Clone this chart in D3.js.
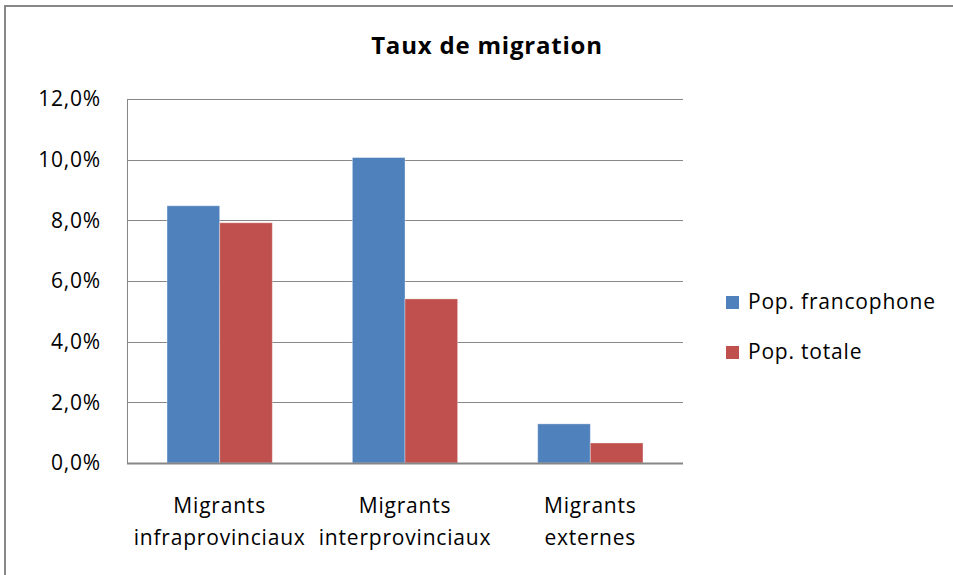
<!DOCTYPE html>
<html>
<head>
<meta charset="utf-8">
<script src="https://cdn.jsdelivr.net/npm/d3@7"></script>
<style>
  body { margin: 0; background: #fff; }
  text { font-family: "Open Sans", sans-serif; fill: #000; }
</style>
</head>
<body>
<div id="chart"></div>
<script>
//// ============================== DATA ============================== ////

var categories = [["Migrants", "infraprovinciaux"], ["Migrants", "interprovinciaux"], ["Migrants", "externes"]];
var seriesNames = ["Pop. francophone", "Pop. totale"];
var seriesColors = ["#4F81BD", "#C0504D"];
var francophone = [0.0848, 0.1007, 0.0129];
var totale = [0.0792, 0.0541, 0.0066];
var yTicks = [0, 0.02, 0.04, 0.06, 0.08, 0.10, 0.12];

//// ============================== LAYOUT ============================== ////

var width = 953, height = 575;
var plot = { left: 127, right: 683, top: 99, bottom: 463 };
var labelSize = "21px", labelSpacing = "0.8px";

var svg = d3.select("#chart").append("svg")
    .attr("width", width)
    .attr("height", height);

// outer chart frame (only top and left edges are visible)
svg.append("path")
    .attr("d", "M5,575 L5,6 L953,6")
    .attr("fill", "none")
    .attr("stroke", "#888")
    .attr("stroke-width", 2);

var x0 = d3.scaleBand()
    .domain(d3.range(categories.length))
    .range([plot.left, plot.right])
    .paddingInner(0.432)
    .paddingOuter(0.216);

var x1 = d3.scaleBand()
    .domain(d3.range(seriesNames.length))
    .range([0, x0.bandwidth()]);

var y = d3.scaleLinear()
    .domain([0, 0.12])
    .range([plot.bottom, plot.top]);

var fmt = function(v) { return d3.format(".1f")(v * 100).replace(".", ",") + "%"; };

//// ============================== AXES ============================== ////

svg.append("g")
    .selectAll("line")
    .data(yTicks)
    .enter().append("line")
    .attr("x1", plot.left)
    .attr("x2", plot.right)
    .attr("y1", function(d) { return Math.round(y(d)) + 0.5; })
    .attr("y2", function(d) { return Math.round(y(d)) + 0.5; })
    .attr("stroke", "#878787")
    .attr("stroke-width", 1);

svg.append("g")
    .selectAll("text")
    .data(yTicks)
    .enter().append("text")
    .attr("x", 101)
    .attr("y", function(d) { return y(d); })
    .attr("dy", "0.35em")
    .attr("text-anchor", "end")
    .style("font-size", labelSize)
    .style("letter-spacing", labelSpacing)
    .text(fmt);

//// ============================== BARS ============================== ////

var rows = categories.map(function(c, i) { return [francophone[i], totale[i]]; });

svg.append("g")
    .selectAll("g")
    .data(rows)
    .enter().append("g")
    .attr("transform", function(d, i) { return "translate(" + x0(i) + ",0)"; })
    .selectAll("rect")
    .data(function(d) { return d; })
    .enter().append("rect")
    .attr("x", function(d, j) { return x1(j); })
    .attr("y", function(d) { return y(d); })
    .attr("width", x1.bandwidth())
    .attr("height", function(d) { return y(0) - y(d); })
    .attr("fill", function(d, j) { return seriesColors[j]; })
    .attr("stroke", "rgba(255,255,255,0.35)")
    .attr("stroke-width", 1);

// axis lines over the bars
svg.append("line")
    .attr("x1", plot.left + 0.5).attr("x2", plot.left + 0.5)
    .attr("y1", plot.top).attr("y2", plot.bottom + 1)
    .attr("stroke", "#878787");
svg.append("line")
    .attr("x1", plot.left).attr("x2", plot.right)
    .attr("y1", plot.bottom + 0.5).attr("y2", plot.bottom + 0.5)
    .attr("stroke", "#878787")
    .attr("stroke-width", 2);

// category labels
var catLabels = svg.append("g")
    .selectAll("text")
    .data(categories)
    .enter().append("text")
    .attr("x", function(d, i) { return x0(i) + x0.bandwidth() / 2; })
    .attr("y", 513)
    .attr("text-anchor", "middle")
    .style("font-size", labelSize)
    .style("letter-spacing", labelSpacing);

catLabels.selectAll("tspan")
    .data(function(d) { return d; })
    .enter().append("tspan")
    .attr("x", function() { return d3.select(this.parentNode).attr("x"); })
    .attr("dy", function(d, i) { return i ? 32 : 0; })
    .text(function(d) { return d; });

//// ============================== TITLE + LEGEND ============================== ////

svg.append("text")
    .attr("x", 487)
    .attr("y", 54)
    .attr("text-anchor", "middle")
    .style("font-size", "24px")
    .style("font-weight", "bold")
    .style("letter-spacing", "0.8px")
    .text("Taux de migration");

var legend = svg.append("g")
    .selectAll("g")
    .data(seriesNames)
    .enter().append("g")
    .attr("transform", function(d, i) { return "translate(726," + (296 + i * 50) + ")"; });

legend.append("rect")
    .attr("width", 13)
    .attr("height", 13)
    .attr("fill", function(d, i) { return seriesColors[i]; });

legend.append("text")
    .attr("x", 22)
    .attr("y", 13)
    .style("font-size", labelSize)
    .style("letter-spacing", labelSpacing)
    .text(function(d) { return d; });
</script>
</body>
</html>
